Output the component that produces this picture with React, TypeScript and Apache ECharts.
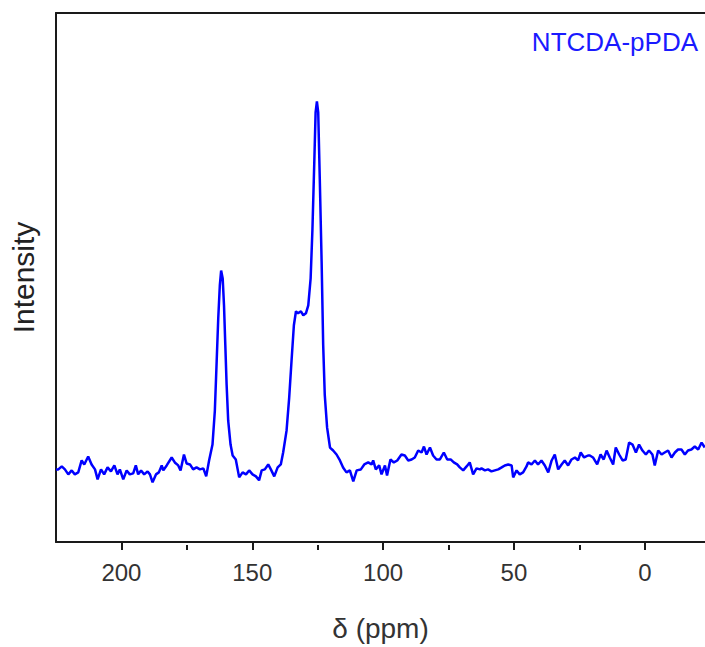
import React, { useEffect, useRef } from "react";
import * as echarts from "echarts";

// chemical shift (ppm)
const ppm = [
  225.0, 224.1, 222.8, 221.6, 220.3, 219.0, 217.8, 216.5, 215.2, 214.2, 212.7, 211.4, 210.1, 209.1, 207.8, 206.6,
  205.3, 204.0, 202.7, 201.5, 200.6, 199.3, 198.0, 196.8, 195.5, 194.5, 193.6, 192.5, 191.3, 190.0, 189.1, 188.1,
  186.8, 185.7, 184.6, 184.0, 182.7, 180.8, 179.6, 178.3, 177.4, 176.1, 175.1, 173.8, 172.6, 171.3, 170.0, 168.7,
  167.6, 166.5, 165.2, 164.3, 163.6, 163.0, 162.4, 161.9, 161.3, 160.8, 160.3, 159.8, 159.2, 158.3, 157.5, 156.3,
  155.0, 153.7, 152.4, 151.2, 149.9, 148.6, 147.4, 146.4, 145.2, 143.9, 142.9, 141.6, 140.3, 139.1, 138.2, 136.9,
  135.9, 135.0, 134.1, 133.3, 132.5, 131.4, 130.5, 129.5, 128.6, 127.7, 127.0, 126.3, 125.8, 125.3, 124.8, 124.2,
  123.5, 122.9, 122.3, 121.4, 120.3, 119.1, 117.8, 116.5, 115.3, 114.0, 112.7, 111.4, 110.1, 108.5, 107.2, 105.7,
  104.4, 103.8, 102.8, 101.5, 100.6, 99.3, 98.5, 97.2, 95.9, 94.6, 93.0, 91.7, 90.4, 89.1, 87.9, 86.6,
  85.3, 84.4, 83.4, 82.1, 80.9, 79.6, 78.3, 76.8, 75.5, 74.2, 73.0, 71.7, 70.7, 69.4, 68.1, 66.9,
  65.6, 64.3, 63.0, 62.4, 61.1, 59.9, 58.6, 57.3, 56.0, 54.7, 53.5, 52.2, 50.9, 50.3, 49.0, 47.8,
  46.5, 45.2, 44.6, 43.3, 42.0, 40.8, 39.5, 38.2, 36.9, 35.6, 34.4, 33.1, 31.8, 30.6, 29.3, 28.0,
  26.7, 25.5, 24.5, 23.2, 21.7, 21.0, 19.8, 18.2, 16.9, 15.7, 14.6, 13.4, 12.1, 11.1, 9.8, 8.5,
  7.3, 6.0, 4.7, 3.4, 2.2, 0.9, -0.4, -1.6, -2.9, -3.8, -5.1, -6.4, -7.6, -8.9, -10.2, -11.5,
  -12.7, -14.0, -15.3, -16.5, -17.8, -19.1, -20.4, -21.7, -22.9,
];

// intensity (arbitrary units)
const intensity = [
  73, 73, 76, 73, 68, 72, 68, 70, 82, 78, 86, 78, 73, 63, 73, 68,
  75, 71, 77, 68, 73, 63, 72, 68, 69, 77, 68, 72, 68, 71, 68, 60,
  68, 70, 77, 72, 77, 85, 80, 77, 72, 88, 79, 78, 73, 75, 73, 74,
  66, 82, 98, 132, 182, 225, 258, 273, 265, 238, 198, 158, 122, 98, 87, 83,
  65, 70, 68, 72, 68, 66, 62, 72, 73, 78, 73, 66, 75, 78, 90, 112,
  145, 182, 218, 232, 230, 232, 228, 230, 238, 265, 315, 382, 432, 443, 432, 365,
  282, 198, 148, 115, 95, 92, 88, 82, 75, 70, 72, 61, 72, 73, 78, 80,
  78, 82, 73, 77, 68, 77, 67, 83, 80, 82, 88, 87, 82, 83, 85, 92,
  90, 96, 88, 95, 87, 83, 83, 90, 83, 83, 80, 78, 75, 72, 76, 80,
  68, 74, 73, 74, 72, 73, 71, 72, 73, 75, 77, 78, 77, 65, 72, 68,
  70, 76, 80, 78, 82, 78, 82, 77, 70, 82, 88, 73, 78, 82, 77, 83,
  85, 82, 90, 85, 87, 87, 85, 78, 88, 83, 92, 85, 78, 95, 88, 82,
  83, 100, 98, 90, 98, 92, 88, 92, 88, 77, 92, 88, 90, 92, 85, 90,
  93, 93, 88, 92, 93, 96, 93, 100, 95,
];

const majorTicks = [0, 50, 100, 150, 200];
const minorTicks = [25, 75, 125, 175];
const xMin = -23;
const xMax = 225;
const yMin = 0;
const yMax = 532;
const seriesLabel = "NTCDA-pPDA";
const xName = "δ (ppm)";
const yName = "Intensity";

const FONT = "Liberation Sans, Arial, sans-serif";

export default function App() {
  const ref = useRef<HTMLDivElement>(null);
  useEffect(() => {
    if (!ref.current) return;
    const chart = echarts.init(ref.current, undefined, { renderer: "svg" });
    const gridPos = { left: 56, right: 0, top: 13, bottom: 102, containLabel: false };
    const axisColor = "#1a1a1a";
    chart.setOption({
      animation: false,
      backgroundColor: "#ffffff",
      grid: [gridPos, { ...gridPos }],
      xAxis: [
        {
          type: "value",
          gridIndex: 0,
          position: "bottom",
          inverse: true,
          min: xMin,
          max: xMax,
          axisLine: { show: true, onZero: false, lineStyle: { color: axisColor, width: 2 } },
          axisTick: { show: true, inside: false, length: 8, customValues: majorTicks, lineStyle: { color: axisColor, width: 2 } },
          axisLabel: { show: true, customValues: majorTicks, fontSize: 24, color: "#333333", margin: 18, fontFamily: FONT },
          splitLine: { show: false },
          name: xName,
          nameLocation: "middle",
          nameGap: 72,
          nameTextStyle: { fontSize: 28, color: "#333333", fontFamily: FONT },
        },
        {
          type: "value",
          gridIndex: 0,
          position: "top",
          inverse: true,
          min: xMin,
          max: xMax,
          axisLine: { show: true, onZero: false, lineStyle: { color: axisColor, width: 2 } },
          axisTick: { show: false },
          axisLabel: { show: false },
          splitLine: { show: false },
        },
        {
          type: "value",
          gridIndex: 1,
          position: "bottom",
          inverse: true,
          min: xMin,
          max: xMax,
          axisLine: { show: false, onZero: false },
          axisTick: { show: true, inside: false, length: 5, customValues: minorTicks, lineStyle: { color: axisColor, width: 2 } },
          axisLabel: { show: false },
          splitLine: { show: false },
        },
      ],
      yAxis: [
        {
          type: "value",
          gridIndex: 0,
          min: yMin,
          max: yMax,
          axisLine: { show: true, onZero: false, lineStyle: { color: axisColor, width: 2 } },
          axisTick: { show: false },
          axisLabel: { show: false },
          splitLine: { show: false },
          name: yName,
          nameLocation: "middle",
          nameGap: 18,
          nameTextStyle: { fontSize: 30, color: "#222222", fontFamily: FONT },
        },
        {
          type: "value",
          gridIndex: 1,
          min: yMin,
          max: yMax,
          show: false,
        },
      ],
      graphic: [
        {
          type: "text",
          right: 7,
          top: 29,
          style: { text: seriesLabel, fill: "#1a1aff", font: `26px ${FONT}` },
        },
      ],
      series: [
        {
          type: "line",
          xAxisIndex: 0,
          yAxisIndex: 0,
          data: ppm.map((p, i) => [p, intensity[i]]),
          showSymbol: false,
          symbol: "none",
          lineStyle: { color: "#0000ff", width: 2.5 },
          clip: true,
        },
      ],
    });
    return () => chart.dispose();
  }, []);
  return (
    <div
      ref={ref}
      style={{ position: "absolute", left: 0, top: 0, width: 705, height: 647 }}
    />
  );
}
